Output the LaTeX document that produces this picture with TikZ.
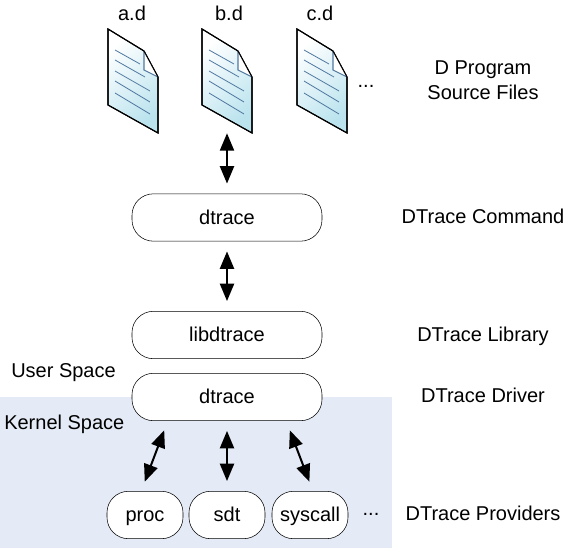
\documentclass[tikz,border=0pt]{standalone}
\usepackage{fontspec}
\setmainfont{Liberation Sans}
\usetikzlibrary{arrows.meta}
\definecolor{band}{RGB}{228,235,246}
\definecolor{docfill}{RGB}{186,227,238}
\definecolor{docline}{RGB}{80,120,160}
\tikzset{
  box/.style={draw,fill=white,rounded corners=16pt,minimum width=142.5pt,minimum height=35.5pt,inner sep=0pt,text height=11.8pt,text depth=2pt},
  smallbox/.style={box,minimum width=57pt},
  conn/.style={{Triangle[length=13pt,width=10.5pt]}-{Triangle[length=13pt,width=10.5pt]},line width=1.5pt,shorten >=7.5pt,shorten <=7.5pt},
  lab/.style={inner sep=0pt,anchor=base}
}

\begin{document}
\begin{tikzpicture}[x=0.75pt,y=-0.75pt,font=\fontsize{15}{18.2}\selectfont]
  \useasboundingbox (0,0) rectangle (566,549);

  % Kernel side of the picture
  \fill[band] (0,397) rectangle (392,548);

  % Source files
  \foreach \x/\lx/\lab/\nm in {108/132/a.d/doca,202/229/b.d/docb,297/320/c.d/docc}{
    \begin{scope}[shift={(\x,29)}]
      \draw[top color=white,bottom color=docfill,shading angle=40,line width=0.8pt]
        (0,0) -- (36,22) -- (50,48) -- (50,104) -- (0,76) -- cycle;
      \fill[white] (36,22) -- (50,48) -- (36,41) -- cycle;
      \draw[docline,line width=0.8pt] (36,22) -- (36,41) -- (50,48);
      \draw[line width=0.8pt] (0,0) -- (36,22) -- (50,48) -- (50,104) -- (0,76) -- cycle;
      \draw[docline,line width=0.6pt] (7,21) -- (32,35);
      \draw[docline,line width=0.6pt] (7,31) -- (37,48);
      \draw[docline,line width=0.6pt] (7,42) -- (42,62);
      \draw[docline,line width=0.6pt] (7,52) -- (42,73);
      \draw[docline,line width=0.6pt] (7,64) -- (42,85);
      \node[minimum width=37.5pt,minimum height=78pt,inner sep=0pt] (\nm) at (25,52) {};
    \end{scope}
    \node[lab] (\nm lab) at (\lx,21) {\lab};
  }
  \node[lab] (docdots) at (366,88) {...};

  % Boxes
  \node[box] (cmd) at (227,217.5) {dtrace};
  \node[box] (lib) at (227,335) {libdtrace};
  \node[box] (drv) at (227,397) {dtrace};
  \node[smallbox] (proc) at (145,515) {proc};
  \node[smallbox] (sdt) at (227,515) {sdt};
  \node[smallbox] (sys) at (310,515) {syscall};
  \node[lab] (provdots) at (371,515) {...};

  % Connectors
  \draw[conn,shorten <=0pt] (docb.south) -- (cmd.north);
  \draw[conn] (cmd.south) -- (lib.north);
  \draw[conn] (drv.202.8) -- (proc.99.5);
  \draw[conn] (drv.south) -- (sdt.north);
  \draw[conn] (drv.-22.6) -- (sys.83.8);

  % Labels
  \node[lab] (srclaba) at (483,75) {D Program};
  \node[lab] (srclabb) at (483,99.3) {Source Files};
  \node[lab] (cmdlab) at (483,223.3) {DTrace Command};
  \node[lab] (liblab) at (483,341.7) {DTrace Library};
  \node[lab] (drvlab) at (483,402.7) {DTrace Driver};
  \node[lab] (provlab) at (483,520) {DTrace Providers};
  \node[lab,anchor=base west] (userlab) at (11,377) {User Space};
  \node[lab,anchor=base west] (kernlab) at (4,429.3) {Kernel Space};
\end{tikzpicture}
\end{document}
